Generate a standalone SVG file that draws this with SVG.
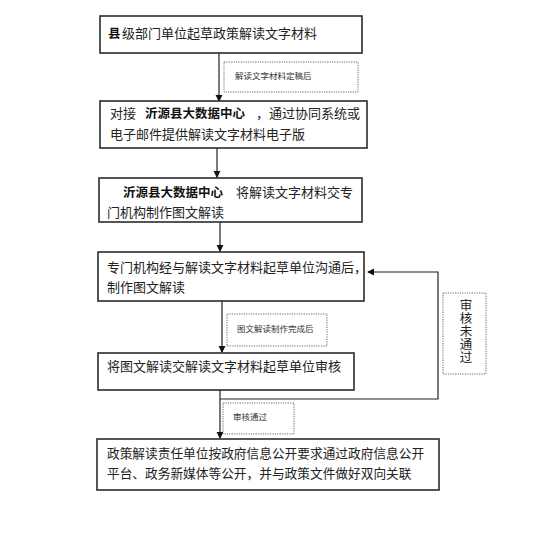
<svg xmlns="http://www.w3.org/2000/svg" width="534" height="539" viewBox="0 0 534 539">
<style>
.box{fill:#fff;stroke:#2b2b2b;stroke-width:1.6}
.lbl{fill:#fff;stroke:#666;stroke-width:1;stroke-dasharray:1.2 1.2}
.t{font-family:"Noto Sans CJK SC",sans-serif;font-size:13px;fill:#222}
.b{font-family:"Noto Sans CJK SC",sans-serif;font-size:12.5px;font-weight:bold;fill:#111}
.s{font-family:"Noto Sans CJK SC",sans-serif;font-size:8.5px;fill:#333}
.ln{fill:none;stroke:#222;stroke-width:1.2}
</style>
<defs>
<marker id="ah" viewBox="0 0 8 8" refX="7" refY="4" markerWidth="6" markerHeight="6" orient="auto">
<path d="M0,0 L8,4 L0,8 z" fill="#111"/>
</marker>
</defs>
<rect width="534" height="539" fill="#fff"/>
<g id="connectors">
<line class="ln" x1="219" y1="53" x2="219" y2="101" marker-end="url(#ah)"/>
<line class="ln" x1="217" y1="148" x2="217" y2="177" marker-end="url(#ah)"/>
<line class="ln" x1="220" y1="222" x2="220" y2="251" marker-end="url(#ah)"/>
<line class="ln" x1="222" y1="301" x2="222" y2="352" marker-end="url(#ah)"/>
<line class="ln" x1="220" y1="390" x2="220" y2="438" marker-end="url(#ah)"/>
<polyline class="ln" points="220,399 438,399 438,272 368,272" marker-end="url(#ah)"/>
</g>
<g id="label1">
<rect class="lbl" x="224" y="62" width="134" height="30"/>
<text class="s" x="235" y="79">解读文字材料定稿后</text>
</g>
<g id="label2">
<rect class="lbl" x="227" y="314" width="100" height="32"/>
<text class="s" x="237" y="332">图文解读制作完成后</text>
</g>
<g id="label3">
<rect class="lbl" x="223" y="403" width="71" height="31"/>
<text class="s" x="233" y="420">审核通过</text>
</g>
<g id="label4">
<rect class="lbl" x="443" y="293" width="43" height="81"/>
<text class="t" x="466" y="299" style="writing-mode:vertical-rl;font-size:12.5px" letter-spacing="0.5">审核未通过</text>
</g>
<g id="node1">
<rect class="box" x="100" y="16" width="262" height="37"/>
<text class="b" x="108" y="38">县</text>
<text class="t" x="122" y="38">级部门单位起草政策解读文字材料</text>
</g>
<g id="node2">
<rect class="box" x="100" y="101" width="267" height="47"/>
<text class="t" x="110" y="118">对接</text>
<text class="b" x="145" y="118">沂源县大数据中心</text>
<text class="t" x="256" y="118">，通过协同系统或</text>
<text class="t" x="110" y="139">电子邮件提供解读文字材料电子版</text>
</g>
<g id="node3">
<rect class="box" x="99" y="178" width="263" height="44"/>
<text class="b" x="123" y="197">沂源县大数据中心</text>
<text class="t" x="236" y="197">将解读文字材料交专</text>
<text class="t" x="107" y="217">门机构制作图文解读</text>
</g>
<g id="node4">
<rect class="box" x="98" y="252" width="266" height="49"/>
<text class="t" x="107" y="272">专门机构经与解读文字材料起草单位沟通后，</text>
<text class="t" x="107" y="292">制作图文解读</text>
</g>
<g id="node5">
<rect class="box" x="98" y="353" width="256" height="37"/>
<text class="t" x="107" y="371">将图文解读交解读文字材料起草单位审核</text>
</g>
<g id="node6">
<rect class="box" x="97" y="439" width="342" height="51"/>
<text class="t" x="107" y="458" style="font-size:12.7px">政策解读责任单位按政府信息公开要求通过政府信息公开</text>
<text class="t" x="107" y="478" style="font-size:12.7px">平台、政务新媒体等公开，并与政策文件做好双向关联</text>
</g>
</svg>
